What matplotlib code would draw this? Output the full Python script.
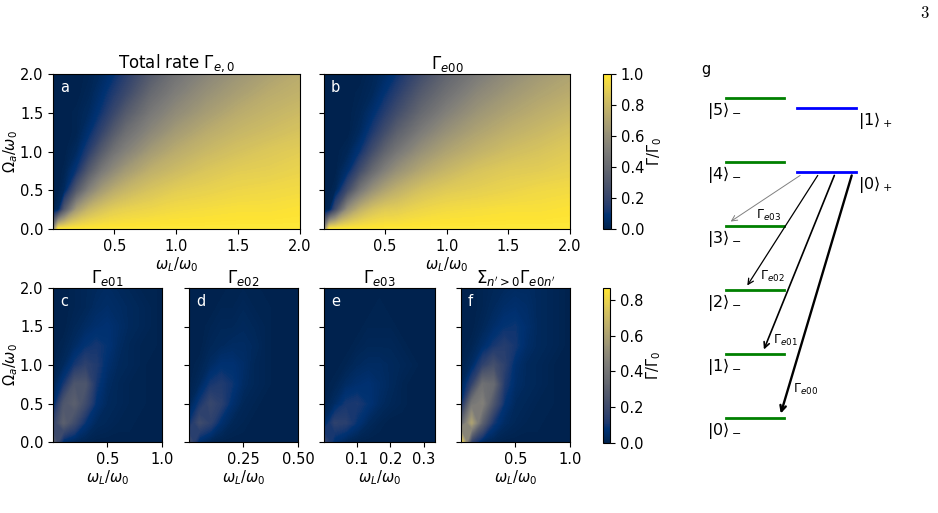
import numpy as np
import matplotlib
matplotlib.use('Agg')
import matplotlib.pyplot as plt

# ---- data (values in units of Gamma_0) ----
# top row: nodes in omega_L/omega_0 (denser near 0) and Omega_a/omega_0
x_top = [0, 0.05, 0.1, 0.2, 0.3, 0.4, 0.5, 0.6, 0.8, 1.0, 1.25, 1.5, 1.75, 2.0]
y_all = [0, 0.25, 0.5, 0.75, 1.0, 1.25, 1.5, 1.75, 2.0]

rate_total = [
    [0.5, 1.00, 1.00, 1.00, 1.00, 1.00, 1.00, 1.00, 1.00, 1.00, 1.00, 1.00, 1.00, 1.00],
    [0.0, 0.04, 0.32, 0.66, 0.79, 0.85, 0.89, 0.91, 0.93, 0.95, 0.96, 0.97, 0.97, 0.98],
    [0.0, 0.00, 0.04, 0.32, 0.53, 0.66, 0.74, 0.79, 0.85, 0.89, 0.91, 0.93, 0.94, 0.95],
    [0.0, 0.00, 0.01, 0.11, 0.32, 0.48, 0.58, 0.66, 0.76, 0.81, 0.86, 0.89, 0.90, 0.92],
    [0.0, 0.00, 0.00, 0.04, 0.16, 0.32, 0.45, 0.53, 0.66, 0.74, 0.80, 0.84, 0.87, 0.89],
    [0.0, 0.00, 0.00, 0.01, 0.08, 0.19, 0.32, 0.43, 0.56, 0.66, 0.74, 0.79, 0.82, 0.85],
    [0.0, 0.00, 0.00, 0.01, 0.04, 0.11, 0.21, 0.32, 0.48, 0.58, 0.67, 0.74, 0.78, 0.81],
    [0.0, 0.00, 0.00, 0.00, 0.02, 0.07, 0.14, 0.22, 0.40, 0.51, 0.61, 0.68, 0.74, 0.77],
    [0.0, 0.00, 0.00, 0.00, 0.01, 0.04, 0.09, 0.16, 0.32, 0.45, 0.55, 0.63, 0.69, 0.74],
]
rate_e00 = [
    [0.5, 1.00, 1.00, 1.00, 1.00, 1.00, 1.00, 1.00, 1.00, 1.00, 1.00, 1.00, 1.00, 1.00],
    [0.0, 0.02, 0.24, 0.61, 0.76, 0.84, 0.88, 0.89, 0.93, 0.95, 0.96, 0.97, 0.97, 0.98],
    [0.0, 0.00, 0.02, 0.24, 0.47, 0.61, 0.70, 0.76, 0.84, 0.88, 0.90, 0.92, 0.94, 0.95],
    [0.0, 0.00, 0.00, 0.07, 0.24, 0.40, 0.52, 0.61, 0.72, 0.79, 0.85, 0.88, 0.89, 0.91],
    [0.0, 0.00, 0.00, 0.02, 0.10, 0.24, 0.37, 0.47, 0.61, 0.70, 0.77, 0.82, 0.85, 0.88],
    [0.0, 0.00, 0.00, 0.00, 0.04, 0.13, 0.24, 0.35, 0.50, 0.61, 0.70, 0.76, 0.80, 0.84],
    [0.0, 0.00, 0.00, 0.00, 0.02, 0.07, 0.15, 0.24, 0.40, 0.52, 0.63, 0.70, 0.75, 0.79],
    [0.0, 0.00, 0.00, 0.00, 0.01, 0.03, 0.09, 0.16, 0.32, 0.44, 0.56, 0.64, 0.70, 0.74],
    [0.0, 0.00, 0.00, 0.00, 0.00, 0.02, 0.05, 0.10, 0.24, 0.37, 0.49, 0.58, 0.65, 0.70],
]

# bottom row: 11 nodes across each panel's own x range (fraction of xmax), same y nodes
u_bot = [0, 0.1, 0.2, 0.3, 0.4, 0.5, 0.6, 0.7, 0.8, 0.9, 1.0]
xmax_bot = [1.0, 0.5, 1/3, 1.0]
rate_e01 = [
    [0.30, 0.05, 0.02, 0.01, 0.00, 0.00, 0.00, 0.00, 0.00, 0.00, 0.00],
    [0.15, 0.30, 0.20, 0.08, 0.03, 0.02, 0.01, 0.01, 0.00, 0.00, 0.00],
    [0.03, 0.25, 0.30, 0.20, 0.07, 0.03, 0.02, 0.01, 0.01, 0.00, 0.00],
    [0.01, 0.10, 0.25, 0.25, 0.10, 0.04, 0.02, 0.01, 0.01, 0.00, 0.00],
    [0.00, 0.03, 0.10, 0.15, 0.12, 0.06, 0.03, 0.02, 0.01, 0.00, 0.00],
    [0.00, 0.01, 0.04, 0.08, 0.10, 0.08, 0.04, 0.02, 0.01, 0.01, 0.00],
    [0.00, 0.00, 0.02, 0.04, 0.06, 0.07, 0.05, 0.03, 0.02, 0.01, 0.00],
    [0.00, 0.00, 0.01, 0.02, 0.04, 0.05, 0.04, 0.03, 0.02, 0.01, 0.00],
    [0.00, 0.00, 0.01, 0.02, 0.03, 0.04, 0.03, 0.02, 0.01, 0.01, 0.00],
]
rate_e02 = [
    [0.22, 0.05, 0.01, 0.00, 0.00, 0.00, 0.00, 0.00, 0.00, 0.00, 0.00],
    [0.08, 0.20, 0.15, 0.06, 0.02, 0.01, 0.00, 0.00, 0.00, 0.00, 0.00],
    [0.01, 0.10, 0.18, 0.14, 0.06, 0.02, 0.01, 0.00, 0.00, 0.00, 0.00],
    [0.00, 0.03, 0.10, 0.12, 0.09, 0.04, 0.02, 0.01, 0.00, 0.00, 0.00],
    [0.00, 0.01, 0.04, 0.07, 0.07, 0.05, 0.02, 0.01, 0.00, 0.00, 0.00],
    [0.00, 0.00, 0.02, 0.03, 0.04, 0.04, 0.03, 0.01, 0.00, 0.00, 0.00],
    [0.00, 0.00, 0.01, 0.02, 0.02, 0.03, 0.02, 0.01, 0.00, 0.00, 0.00],
    [0.00, 0.00, 0.00, 0.01, 0.01, 0.02, 0.01, 0.01, 0.00, 0.00, 0.00],
    [0.00, 0.00, 0.00, 0.00, 0.01, 0.01, 0.01, 0.00, 0.00, 0.00, 0.00],
]
rate_e03 = [
    [0.18, 0.06, 0.02, 0.00, 0.00, 0.00, 0.00, 0.00, 0.00, 0.00, 0.00],
    [0.04, 0.15, 0.14, 0.08, 0.03, 0.01, 0.00, 0.00, 0.00, 0.00, 0.00],
    [0.00, 0.04, 0.10, 0.11, 0.08, 0.04, 0.02, 0.01, 0.00, 0.00, 0.00],
    [0.00, 0.01, 0.04, 0.06, 0.07, 0.05, 0.03, 0.01, 0.00, 0.00, 0.00],
    [0.00, 0.00, 0.01, 0.03, 0.04, 0.04, 0.03, 0.02, 0.01, 0.00, 0.00],
    [0.00, 0.00, 0.00, 0.01, 0.02, 0.02, 0.02, 0.01, 0.00, 0.00, 0.00],
    [0.00, 0.00, 0.00, 0.00, 0.01, 0.01, 0.01, 0.00, 0.00, 0.00, 0.00],
    [0.00, 0.00, 0.00, 0.00, 0.00, 0.01, 0.00, 0.00, 0.00, 0.00, 0.00],
    [0.00, 0.00, 0.00, 0.00, 0.00, 0.00, 0.00, 0.00, 0.00, 0.00, 0.00],
]
rate_sum = [
    [0.86, 0.15, 0.03, 0.01, 0.00, 0.00, 0.00, 0.00, 0.00, 0.00, 0.00],
    [0.30, 0.60, 0.30, 0.10, 0.04, 0.02, 0.01, 0.01, 0.00, 0.00, 0.00],
    [0.05, 0.40, 0.45, 0.25, 0.08, 0.03, 0.02, 0.01, 0.01, 0.00, 0.00],
    [0.01, 0.15, 0.38, 0.35, 0.12, 0.05, 0.03, 0.02, 0.01, 0.00, 0.00],
    [0.00, 0.04, 0.15, 0.22, 0.15, 0.06, 0.03, 0.02, 0.01, 0.00, 0.00],
    [0.00, 0.01, 0.05, 0.10, 0.13, 0.10, 0.05, 0.03, 0.02, 0.01, 0.00],
    [0.00, 0.00, 0.02, 0.05, 0.08, 0.09, 0.06, 0.03, 0.02, 0.01, 0.00],
    [0.00, 0.00, 0.01, 0.03, 0.05, 0.06, 0.05, 0.03, 0.02, 0.01, 0.00],
    [0.00, 0.00, 0.01, 0.02, 0.03, 0.04, 0.04, 0.03, 0.02, 0.01, 0.00],
]

top_titles = [r'Total rate $\Gamma_{e,0}$', r'$\Gamma_{e00}$']
bot_titles = [r'$\Gamma_{e01}$', r'$\Gamma_{e02}$', r'$\Gamma_{e03}$',
              r"$\Sigma_{n'>0}\Gamma_{e0n'}$"]
bot_xticks = [[0.5, 1.0], [0.25, 0.5], [0.1, 0.2, 0.3], [0.5, 1.0]]
bot_xlabels = [['0.5', '1.0'], ['0.25', '0.50'], ['0.1', '0.2', '0.3'], ['0.5', '1.0']]

# level scheme (panel g): energies of |n>_- and |n>_+ in units of the level spacing
e_minus = [0, 1, 2, 3, 4, 5]
e_plus = [3.84, 4.84]
decay_to = [3, 2, 1, 0]             # final |n>_- of each arrow from |0>_+
decay_names = [r'$\Gamma_{e03}$', r'$\Gamma_{e02}$', r'$\Gamma_{e01}$', r'$\Gamma_{e00}$']

W, H = 938, 513
FS = 10.5


def rect(l, t, r, b):
    return [l / W, 1 - b / H, (r - l) / W, (b - t) / H]


def heat(ax, x, z, vmax):
    lv = np.linspace(0, vmax, 160)
    cs = ax.contourf(x, y_all, np.array(z), levels=lv, cmap='cividis',
                     vmin=0, vmax=vmax, extend='neither')
    ax.set_xlim(0.003 * x[-1], x[-1]); ax.set_ylim(0, 2)
    ax.set_yticks([0, 0.5, 1.0, 1.5, 2.0])
    ax.tick_params(labelsize=FS)
    return cs


def letter(ax, s):
    ax.annotate(s, xy=(0, 1), xycoords='axes fraction', xytext=(5, -4),
                textcoords='offset points', ha='left', va='top',
                color='white', fontsize=FS)


def colorbar(fig, mappable, r, ticks):
    cax = fig.add_axes(rect(*r))
    cb = fig.colorbar(mappable, cax=cax, ticks=ticks)
    cb.ax.tick_params(labelsize=FS)
    cb.set_label(r'$\Gamma/\Gamma_0$', fontsize=FS, labelpad=1)
    return cb


def main():
    fig = plt.figure(figsize=(W / 100, H / 100), dpi=100)

    # top row
    top_rects = [(53, 74, 300, 229), (324, 74, 570, 229)]
    for i, z in enumerate([rate_total, rate_e00]):
        ax = fig.add_axes(rect(*top_rects[i]))
        cs1 = heat(ax, x_top, z, 1.0)
        ax.set_xticks([0.5, 1.0, 1.5, 2.0])
        ax.set_xlabel(r'$\omega_L/\omega_0$', fontsize=FS, labelpad=1)
        ax.set_title(top_titles[i], fontsize=12, pad=3)
        if i == 0:
            ax.set_yticklabels(['0.0', '0.5', '1.0', '1.5', '2.0'])
            ax.set_ylabel(r'$\Omega_a/\omega_0$', fontsize=FS, labelpad=0)
        else:
            ax.set_yticklabels([])
        letter(ax, 'ab'[i])
    colorbar(fig, cs1, (603, 74, 611, 229), [0, 0.2, 0.4, 0.6, 0.8, 1.0])

    # bottom row
    bot_rects = [(53, 288, 162, 442), (189, 288, 298, 442),
                 (324, 288, 435, 442), (461, 288, 570, 442)]
    vmax_b = 0.867
    for i, z in enumerate([rate_e01, rate_e02, rate_e03, rate_sum]):
        ax = fig.add_axes(rect(*bot_rects[i]))
        xb = [u * xmax_bot[i] for u in u_bot]
        cs2 = heat(ax, xb, z, vmax_b)
        ax.set_xticks(bot_xticks[i]); ax.set_xticklabels(bot_xlabels[i])
        ax.set_xlabel(r'$\omega_L/\omega_0$', fontsize=FS, labelpad=1)
        ax.set_title(bot_titles[i], fontsize=12, pad=3)
        if i == 0:
            ax.set_yticklabels(['0.0', '0.5', '1.0', '1.5', '2.0'])
            ax.set_ylabel(r'$\Omega_a/\omega_0$', fontsize=FS, labelpad=0)
        else:
            ax.set_yticklabels([])
        letter(ax, 'cdef'[i])
    colorbar(fig, cs2, (603, 288, 610, 443), [0, 0.2, 0.4, 0.6, 0.8])

    # panel g: level scheme
    ag = fig.add_axes(rect(690, 50, 938, 470))
    ag.set_xlim(0, 10); ag.set_ylim(-0.8125, 5.75); ag.axis('off')
    gx = (1.45, 3.79); bx = (4.31, 6.69)
    for n, e in enumerate(e_minus):
        ag.plot(gx, [e, e], color='green', lw=2)
        ag.text(0.69, e - 0.19, r'$|%d\rangle_-$' % n, fontsize=11.5, va='center')
    for n, e in enumerate(e_plus):
        ag.plot(bx, [e, e], color='blue', lw=2)
        ag.text(6.77, e - 0.19, r'$|%d\rangle_+$' % n, fontsize=11.5, va='center')
    ag.text(0.45, 5.44, 'g', fontsize=FS, va='center')

    x0 = [4.44, 5.15, 5.82, 6.52]
    x1 = [1.64, 2.31, 2.98, 3.66]
    lws = [0.7, 0.9, 1.2, 1.7]
    cols = ['gray', 'black', 'black', 'black']
    lab_xy = [(3.15, 3.17), (3.31, 2.21), (3.83, 1.21), (4.64, 0.44)]
    for k, n in enumerate(decay_to):
        ag.annotate('', xy=(x1[k], e_minus[n] + 0.07), xytext=(x0[k], e_plus[0] - 0.05),
                    arrowprops=dict(arrowstyle='->', lw=lws[k], color=cols[k],
                                    shrinkA=0, shrinkB=0))
        ag.text(lab_xy[k][0], lab_xy[k][1], decay_names[k], fontsize=9,
                ha='center', va='center')

    fig.text(925 / W, 1 - 13 / H, r'$\mathrm{3}$', math_fontfamily='cm',
             fontsize=12, ha='center', va='center')

    fig.savefig('out.png', dpi=100)


if __name__ == '__main__':
    main()
